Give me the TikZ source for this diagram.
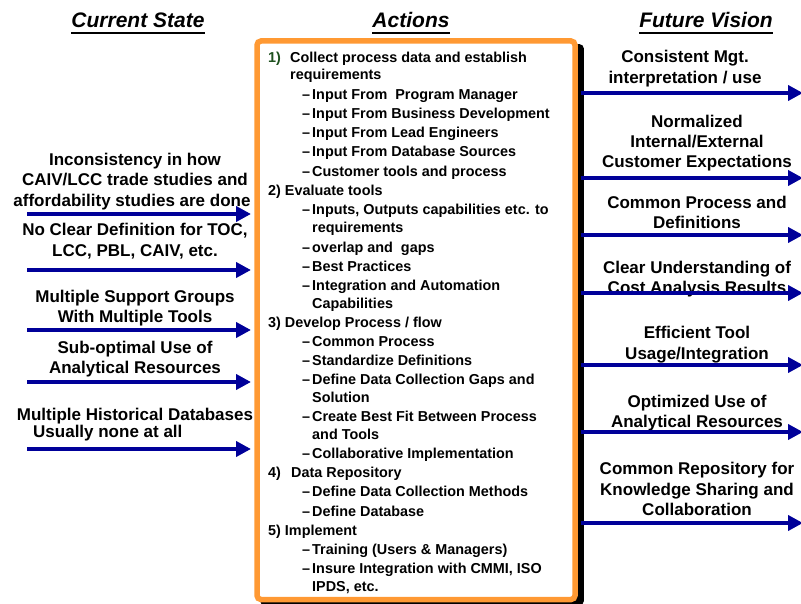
\documentclass[tikz,border=0pt]{standalone}
\usepackage{fontspec}
\setmainfont{Liberation Sans}
\usetikzlibrary{arrows.meta}
\definecolor{navy}{RGB}{0,0,153}
\definecolor{boxorange}{RGB}{255,153,51}
\definecolor{numgreen}{RGB}{30,80,30}
\tikzset{
  hdr/.style={anchor=base, inner sep=0pt, font=\fontsize{21.08}{24}\selectfont\bfseries\itshape},
  side/.style={anchor=base, inner sep=0pt, font=\fontsize{17.06}{20}\selectfont\bfseries},
  itm/.style={anchor=base west, inner sep=0pt, font=\fontsize{14.45}{17}\selectfont\bfseries},
  arr/.style={draw=navy, line width=4bp, -{Triangle[length=15bp,width=15bp]}},
  uline/.style={line width=2.5bp},
}
\newcommand{\hdrline}[1]{\draw[uline] ([yshift=-5bp]#1.base west) -- ([yshift=-5bp]#1.base east);}
\begin{document}
\begin{tikzpicture}[x=1bp,y=-1bp]
\useasboundingbox (0,0) rectangle (801,604);
\clip (0,0) rectangle (801,604);

% headers
\node[hdr] (h1) at (138,28) {Current State};
\node[hdr] (h2) at (411,28) {Actions};
\node[hdr] (h3) at (706,28) {Future Vision};
\hdrline{h1}\hdrline{h2}\hdrline{h3}

% central box with shadow
\fill[black, rounded corners=4bp] (260.25,44.25) rectangle (583.75,605.25);
\draw[boxorange, line width=5.5bp, fill=white, rounded corners=4bp] (257,41) rectangle (575,599.5);

% box contents
\node[itm, text=numgreen] (n1) at (268,63) {1)};
\node[itm] (t1) at (290,63) {Collect process data and establish};
\node[itm] (t1b) at (290,80) {requirements};
\node[itm] (d11) at (302,100) {\char"2013};
\node[itm] (t11) at (312,100) {Input From~ Program Manager};
\node[itm] (d12) at (302,119) {\char"2013};
\node[itm] (t12) at (312,119) {Input From Business Development};
\node[itm] (d13) at (302,138) {\char"2013};
\node[itm] (t13) at (312,138) {Input From Lead Engineers};
\node[itm] (d14) at (302,157) {\char"2013};
\node[itm] (t14) at (312,157) {Input From Database Sources};
\node[itm] (d15) at (302,177) {\char"2013};
\node[itm] (t15) at (312,177) {Customer tools and process};
\node[itm] (t2) at (268,196) {2) Evaluate tools};
\node[itm] (d21) at (302,215) {\char"2013};
\node[itm] (t21) at (312,215) {Inputs, Outputs capabilities etc. to};
\node[itm] (t21b) at (312,233) {requirements};
\node[itm] (d22) at (302,252) {\char"2013};
\node[itm] (t22) at (312,252) {overlap and~ gaps};
\node[itm] (d23) at (302,271) {\char"2013};
\node[itm] (t23) at (312,271) {Best Practices};
\node[itm] (d24) at (302,290) {\char"2013};
\node[itm] (t24) at (312,290) {Integration and Automation};
\node[itm] (t24b) at (312,308) {Capabilities};
\node[itm] (t3) at (268,327) {3) Develop Process / flow};
\node[itm] (d31) at (302,346) {\char"2013};
\node[itm] (t31) at (312,346) {Common Process};
\node[itm] (d32) at (302,365) {\char"2013};
\node[itm] (t32) at (312,365) {Standardize Definitions};
\node[itm] (d33) at (302,384) {\char"2013};
\node[itm] (t33) at (312,384) {Define Data Collection Gaps and};
\node[itm] (t33b) at (312,402) {Solution};
\node[itm] (d34) at (302,421) {\char"2013};
\node[itm] (t34) at (312,421) {Create Best Fit Between Process};
\node[itm] (t34b) at (312,439) {and Tools};
\node[itm] (d35) at (302,458) {\char"2013};
\node[itm] (t35) at (312,458) {Collaborative Implementation};
\node[itm] (n4) at (268,477) {4)};
\node[itm] (t4) at (291,477) {Data Repository};
\node[itm] (d41) at (302,496) {\char"2013};
\node[itm] (t41) at (312,496) {Define Data Collection Methods};
\node[itm] (d42) at (302,516) {\char"2013};
\node[itm] (t42) at (312,516) {Define Database};
\node[itm] (t5) at (268,535) {5) Implement};
\node[itm] (d51) at (302,554) {\char"2013};
\node[itm] (t51) at (312,554) {Training (Users \& Managers)};
\node[itm] (d52) at (302,573) {\char"2013};
\node[itm] (t52) at (312,573) {Insure Integration with CMMI, ISO};
\node[itm] (t52b) at (312,591) {IPDS, etc.};

% left texts
\node[side] (l1a) at (135,166) {Inconsistency in how};
\node[side] (l1b) at (135,186) {CAIV/LCC trade studies and};
\node[side] (l1c) at (132,207) {affordability studies are done};
\node[side] (l2a) at (135,236) {No Clear Definition for TOC,};
\node[side] (l2b) at (135,256) {LCC, PBL, CAIV, etc.};
\node[side] (l3a) at (135,302) {Multiple Support Groups};
\node[side] (l3b) at (135,322) {With Multiple Tools};
\node[side] (l4a) at (135,353) {Sub-optimal Use of};
\node[side] (l4b) at (135,373) {Analytical Resources};
\node[side] (l5a) at (135,420) {Multiple Historical Databases};
\node[side, anchor=base west] (l5b) at (33,437) {Usually none at all};

% left arrows
\coordinate (la1) at (27,214);  \coordinate (lb1) at (251,214);
\coordinate (la2) at (27,270);  \coordinate (lb2) at (251,270);
\coordinate (la3) at (27,330);  \coordinate (lb3) at (251,330);
\coordinate (la4) at (27,382);  \coordinate (lb4) at (251,382);
\coordinate (la5) at (27,449);  \coordinate (lb5) at (251,449);
\foreach \i in {1,...,5} {\draw[arr] (la\i) -- (lb\i);}

% right texts
\node[side] (r1a) at (685,63) {Consistent Mgt.};
\node[side] (r1b) at (685,84) {interpretation / use};
\node[side] (r2a) at (697,128) {Normalized};
\node[side] (r2b) at (697,148) {Internal/External};
\node[side] (r2c) at (697,168) {Customer Expectations};
\node[side] (r3a) at (697,209) {Common Process and};
\node[side] (r3b) at (697,229) {Definitions};
\node[side] (r4a) at (697,273) {Clear Understanding of};
\node[side] (r4b) at (697,293) {Cost Analysis Results};
\node[side] (r5a) at (697,338) {Efficient Tool};
\node[side] (r5b) at (697,359) {Usage/Integration};
\node[side] (r6a) at (697,407) {Optimized Use of};
\node[side] (r6b) at (697,427) {Analytical Resources};
\node[side] (r7a) at (697,474) {Common Repository for};
\node[side] (r7b) at (697,495) {Knowledge Sharing and};
\node[side] (r7c) at (697,515) {Collaboration};

% right arrows
\coordinate (ra1) at (581,93);  \coordinate (rb1) at (803,93);
\coordinate (ra2) at (581,178); \coordinate (rb2) at (803,178);
\coordinate (ra3) at (581,235); \coordinate (rb3) at (803,235);
\coordinate (ra4) at (581,293); \coordinate (rb4) at (803,293);
\coordinate (ra5) at (581,365); \coordinate (rb5) at (803,365);
\coordinate (ra6) at (581,432); \coordinate (rb6) at (803,432);
\coordinate (ra7) at (581,523); \coordinate (rb7) at (803,523);
\foreach \i in {1,...,7} {\draw[arr] (ra\i) -- (rb\i);}
\end{tikzpicture}
\end{document}
